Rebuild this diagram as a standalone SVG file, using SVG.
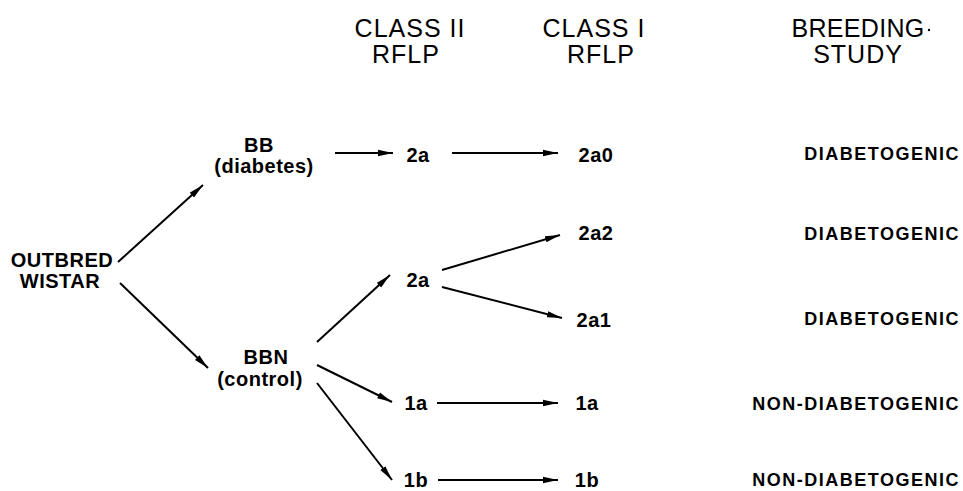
<svg xmlns="http://www.w3.org/2000/svg" width="963" height="491" viewBox="0 0 963 491">
<defs>
<marker id="ah" markerUnits="userSpaceOnUse" markerWidth="16" markerHeight="10" refX="15" refY="4" orient="auto">
<path d="M0,0.8 L15,4 L0,7.2 Z" fill="#000"/>
</marker>
<style>
text{font-family:"Liberation Sans",Arial,sans-serif;fill:#000}
.h{font-size:25px;letter-spacing:1px;text-anchor:middle}
.n{font-size:20px;font-weight:bold;text-anchor:middle;letter-spacing:0.5px}
.r{font-size:18px;font-weight:bold;text-anchor:end;letter-spacing:1.5px}
.c line{stroke:#000;stroke-width:2;marker-end:url(#ah)}
</style>
</defs>
<rect width="963" height="491" fill="#fff"/>
<g id="headers">
<text class="h" x="410" y="37">CLASS II</text>
<text class="h" x="406" y="63">RFLP</text>
<text class="h" x="594" y="37">CLASS I</text>
<text class="h" x="601" y="63">RFLP</text>
<text class="h" x="858" y="37" style="letter-spacing:0.3px">BREEDING</text>
<circle cx="929" cy="30" r="1.2" fill="#000"/>
<text class="h" x="858" y="63">STUDY</text>
</g>
<g id="outbred"><text class="n" x="62" y="267">OUTBRED</text><text class="n" x="60" y="288">WISTAR</text></g>
<g id="bb"><text class="n" x="259" y="152">BB</text><text class="n" x="264" y="173">(diabetes)</text></g>
<g id="bbn"><text class="n" x="266" y="364">BBN</text><text class="n" x="260" y="386">(control)</text></g>
<g id="c2_2a_top"><text class="n" x="418" y="162">2a</text></g>
<g id="c2_2a_mid"><text class="n" x="418" y="287">2a</text></g>
<g id="c2_1a"><text class="n" x="416" y="410">1a</text></g>
<g id="c2_1b"><text class="n" x="416" y="487">1b</text></g>
<g id="c1_2a0"><text class="n" x="596" y="162">2a0</text></g>
<g id="c1_2a2"><text class="n" x="596" y="240">2a2</text></g>
<g id="c1_2a1"><text class="n" x="594" y="327">2a1</text></g>
<g id="c1_1a"><text class="n" x="587" y="410">1a</text></g>
<g id="c1_1b"><text class="n" x="587" y="487">1b</text></g>
<g id="study">
<text class="r" x="960" y="160">DIABETOGENIC</text>
<text class="r" x="960" y="240">DIABETOGENIC</text>
<text class="r" x="960" y="325">DIABETOGENIC</text>
<text class="r" x="960" y="410">NON-DIABETOGENIC</text>
<text class="r" x="960" y="486">NON-DIABETOGENIC</text>
</g>
<g id="connectors" class="c">
<line x1="118" y1="262" x2="203" y2="185"/>
<line x1="120" y1="283" x2="208" y2="368"/>
<line x1="335" y1="153" x2="393" y2="153"/>
<line x1="452" y1="153" x2="558" y2="153"/>
<line x1="317" y1="342" x2="390" y2="275"/>
<line x1="442" y1="270" x2="560" y2="235"/>
<line x1="442" y1="287" x2="562" y2="318"/>
<line x1="317" y1="365" x2="392" y2="402"/>
<line x1="437" y1="403" x2="558" y2="403"/>
<line x1="317" y1="383" x2="392" y2="480"/>
<line x1="438" y1="480" x2="558" y2="480"/>
</g>
</svg>
